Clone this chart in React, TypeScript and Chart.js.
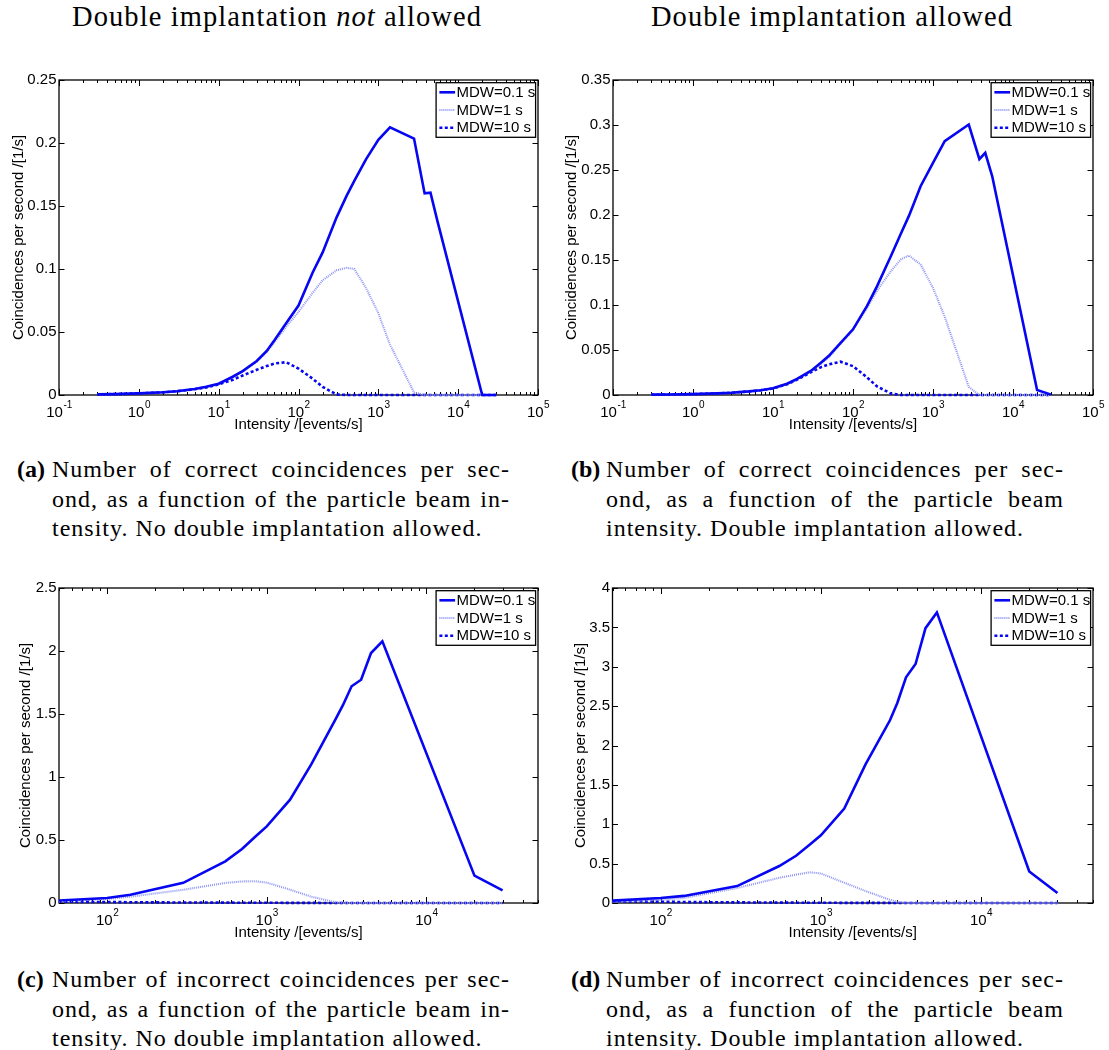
import React, { useEffect, useRef } from "react";
import { Chart, registerables } from "chart.js";

Chart.register(...registerables);

// ---------------- data ----------------
const SERIES_LABELS = ["MDW=0.1 s", "MDW=1 s", "MDW=10 s"];

const X_TOP = [0.3, 0.5, 1, 2, 3, 5, 7, 10, 15, 20, 30, 40, 50, 70, 100, 150, 200, 300, 400, 500, 700, 1000, 1400, 2800, 3800, 4500, 5500, 20000, 30000];

const A_MDW_01 = [0.0005, 0.0007, 0.0013, 0.0022, 0.003, 0.0048, 0.0065, 0.009, 0.0145, 0.019, 0.027, 0.035, 0.0435, 0.057, 0.071, 0.097, 0.113, 0.141, 0.158, 0.17, 0.187, 0.2025, 0.2125, 0.2035, 0.16, 0.1605, 0.138, 0, 0];
const A_MDW_1 = [0.0005, 0.0007, 0.0013, 0.0022, 0.003, 0.0048, 0.0065, 0.009, 0.0143, 0.0188, 0.0265, 0.034, 0.042, 0.054, 0.066, 0.081, 0.091, 0.099, 0.101, 0.1, 0.085, 0.065, 0.04, 0.002, 0, 0, 0, 0, 0];
const A_MDW_10 = [0.0005, 0.0007, 0.0013, 0.0021, 0.003, 0.0046, 0.006, 0.0085, 0.012, 0.0155, 0.02, 0.023, 0.025, 0.026, 0.021, 0.013, 0.0065, 0.0004, 0, 0, 0, 0, 0, 0, 0, 0, 0, 0, 0];

const B_MDW_01 = [0.0004, 0.0006, 0.001, 0.0018, 0.0025, 0.004, 0.0053, 0.0075, 0.0125, 0.018, 0.027, 0.036, 0.0435, 0.058, 0.073, 0.099, 0.121, 0.155, 0.18, 0.199, 0.232, 0.258, 0.282, 0.3005, 0.262, 0.269, 0.243, 0.0056, 0.0004];
const B_MDW_1 = [0.0004, 0.0006, 0.001, 0.0018, 0.0025, 0.004, 0.0053, 0.0075, 0.0123, 0.0178, 0.0265, 0.035, 0.042, 0.057, 0.072, 0.097, 0.116, 0.138, 0.151, 0.155, 0.145, 0.119, 0.087, 0.009, 0, 0, 0, 0, 0];
const B_MDW_10 = [0.0004, 0.0006, 0.001, 0.0018, 0.0025, 0.004, 0.0052, 0.0073, 0.012, 0.017, 0.0255, 0.031, 0.034, 0.037, 0.032, 0.0195, 0.0095, 0.0015, 0, 0, 0, 0, 0, 0, 0, 0, 0, 0, 0];

const X_BOTTOM = [50, 100, 140, 300, 550, 700, 850, 1000, 1400, 1900, 2700, 3000, 3400, 3900, 4500, 5300, 20000, 30000];

const C_MDW_01 = [0.02, 0.04, 0.066, 0.16, 0.331, 0.429, 0.528, 0.608, 0.82, 1.1, 1.46, 1.57, 1.72, 1.772, 1.984, 2.077, 0.217, 0.1];
const C_MDW_1 = [0.013, 0.032, 0.05, 0.105, 0.159, 0.171, 0.173, 0.162, 0.106, 0.05, 0.006, 0.001, 0, 0, 0, 0, 0, 0];
const C_MDW_10 = [0.01, 0.008, 0.006, 0.004, 0.003, 0.002, 0.002, 0.002, 0.001, 0.001, 0, 0, 0, 0, 0, 0, 0, 0];

const D_MDW_01 = [0.03, 0.063, 0.09, 0.215, 0.47, 0.6, 0.74, 0.86, 1.2, 1.76, 2.32, 2.54, 2.866, 3.035, 3.49, 3.69, 0.4, 0.127];
const D_MDW_1 = [0.017, 0.04, 0.065, 0.19, 0.32, 0.36, 0.39, 0.375, 0.257, 0.152, 0.04, 0.015, 0.003, 0, 0, 0, 0, 0];
const D_MDW_10 = [0.02, 0.017, 0.012, 0.008, 0.005, 0.004, 0.003, 0.003, 0.002, 0.001, 0.001, 0, 0, 0, 0, 0, 0, 0];

const Y_TICKS_A = [0, 0.05, 0.1, 0.15, 0.2, 0.25];
const Y_LABELS_A = ["0", "0.05", "0.1", "0.15", "0.2", "0.25"];
const Y_TICKS_B = [0, 0.05, 0.1, 0.15, 0.2, 0.25, 0.3, 0.35];
const Y_LABELS_B = ["0", "0.05", "0.1", "0.15", "0.2", "0.25", "0.3", "0.35"];
const Y_TICKS_C = [0, 0.5, 1, 1.5, 2, 2.5];
const Y_LABELS_C = ["0", "0.5", "1", "1.5", "2", "2.5"];
const Y_TICKS_D = [0, 0.5, 1, 1.5, 2, 2.5, 3, 3.5, 4];
const Y_LABELS_D = ["0", "0.5", "1", "1.5", "2", "2.5", "3", "3.5", "4"];

const X_DECADES_TOP = [0.1, 1, 10, 100, 1000, 10000, 100000];
const X_EXPONENTS_TOP = ["-1", "0", "1", "2", "3", "4", "5"];
const X_DECADES_BOTTOM = [100, 1000, 10000];
const X_EXPONENTS_BOTTOM = ["2", "3", "4"];

const X_TITLE = "Intensity /[events/s]";
const Y_TITLE = "Coincidences per second /[1/s]";

const HEADING_LEFT = "Double implantation ";
const HEADING_LEFT_EM = "not";
const HEADING_LEFT_END = " allowed";
const HEADING_RIGHT = "Double implantation allowed";

const CAPTION_A = ["Number of correct coincidences per sec-", "ond, as a function of the particle beam in-", "tensity. No double implantation allowed."];
const CAPTION_B = ["Number of correct coincidences per sec-", "ond, as a function of the particle beam", "intensity. Double implantation allowed."];
const CAPTION_C = ["Number of incorrect coincidences per sec-", "ond, as a function of the particle beam in-", "tensity. No double implantation allowed."];
const CAPTION_D = ["Number of incorrect coincidences per sec-", "ond, as a function of the particle beam", "intensity. Double implantation allowed."];

// ---------------- styles ----------------
const SANS = "'Liberation Sans', Arial, Helvetica, sans-serif";
const SERIF = "'Liberation Serif', 'Times New Roman', serif";
const LINE_STYLES = [
  { color: "#0606f2", width: 2.6, dash: [] as number[] },
  { color: "#8f96f4", width: 2.1, dash: [1, 1] },
  { color: "#0606f2", width: 2.6, dash: [3, 2.4] },
];

const CH = 375;
const PLOT_TOP = 20;
const PLOT_BOTTOM = 335;

type PanelSpec = {
  xs: number[];
  series: number[][];
  xMin: number;
  xMax: number;
  yMax: number;
  yTicks: number[];
  yLabels: string[];
  xDecades: number[];
  xExps: string[];
  yTitleX: number;
};

const PANEL_A: PanelSpec = { xs: X_TOP, series: [A_MDW_01, A_MDW_1, A_MDW_10], xMin: 0.1, xMax: 100000, yMax: 0.25, yTicks: Y_TICKS_A, yLabels: Y_LABELS_A, xDecades: X_DECADES_TOP, xExps: X_EXPONENTS_TOP, yTitleX: 18.4 };
const PANEL_B: PanelSpec = { xs: X_TOP, series: [B_MDW_01, B_MDW_1, B_MDW_10], xMin: 0.1, xMax: 100000, yMax: 0.35, yTicks: Y_TICKS_B, yLabels: Y_LABELS_B, xDecades: X_DECADES_TOP, xExps: X_EXPONENTS_TOP, yTitleX: 18.3 };
const PANEL_C: PanelSpec = { xs: X_BOTTOM, series: [C_MDW_01, C_MDW_1, C_MDW_10], xMin: 50, xMax: 50000, yMax: 2.5, yTicks: Y_TICKS_C, yLabels: Y_LABELS_C, xDecades: X_DECADES_BOTTOM, xExps: X_EXPONENTS_BOTTOM, yTitleX: 26.3 };
const PANEL_D: PanelSpec = { xs: X_BOTTOM, series: [D_MDW_01, D_MDW_1, D_MDW_10], xMin: 50, xMax: 50000, yMax: 4, yTicks: Y_TICKS_D, yLabels: Y_LABELS_D, xDecades: X_DECADES_BOTTOM, xExps: X_EXPONENTS_BOTTOM, yTitleX: 27 };

function makeAxesPlugin(p: PanelSpec) {
  return {
    id: "matlabAxes",
    beforeDatasetsDraw(chart: any) {
      const { ctx, chartArea: a, scales } = chart;
      const xs = scales.x;
      const ys = scales.y;
      ctx.save();
      ctx.strokeStyle = "#000";
      ctx.lineWidth = 1;
      ctx.beginPath();
      const lo = Math.floor(Math.log10(p.xMin) + 1e-9);
      const hi = Math.ceil(Math.log10(p.xMax) - 1e-9);
      for (let d = lo; d <= hi; d++) {
        for (let m = 1; m <= 9; m++) {
          const v = m * Math.pow(10, d);
          if (v < p.xMin * 0.999 || v > p.xMax * 1.001) continue;
          const px = Math.round(xs.getPixelForValue(v)) + 0.5;
          const len = m === 1 ? 6 : 3;
          ctx.moveTo(px, a.bottom);
          ctx.lineTo(px, a.bottom - len);
          ctx.moveTo(px, a.top);
          ctx.lineTo(px, a.top + len);
        }
      }
      p.yTicks.forEach((v) => {
        const py = Math.round(ys.getPixelForValue(v)) + 0.5;
        ctx.moveTo(a.left, py);
        ctx.lineTo(a.left + 5.5, py);
        ctx.moveTo(a.right, py);
        ctx.lineTo(a.right - 5.5, py);
      });
      ctx.stroke();
      ctx.lineWidth = 1.3;
      ctx.strokeRect(a.left, a.top, a.right - a.left, a.bottom - a.top);

      // y tick labels
      ctx.fillStyle = "#000";
      ctx.font = `15px ${SANS}`;
      ctx.textAlign = "right";
      ctx.textBaseline = "middle";
      p.yTicks.forEach((v, i) => {
        ctx.fillText(p.yLabels[i], a.left - 2.5, ys.getPixelForValue(v));
      });

      // x tick labels: 10 with raised exponent
      p.xDecades.forEach((v, i) => {
        const px = xs.getPixelForValue(v);
        ctx.font = `15px ${SANS}`;
        const wBase = ctx.measureText("10").width;
        ctx.font = `10px ${SANS}`;
        const wExp = ctx.measureText(p.xExps[i]).width;
        const start = px - (wBase + wExp) / 2;
        ctx.textAlign = "left";
        ctx.textBaseline = "alphabetic";
        ctx.font = `15px ${SANS}`;
        ctx.fillText("10", start, a.bottom + 21.7);
        ctx.font = `10px ${SANS}`;
        ctx.fillText(p.xExps[i], start + wBase + 0.5, a.bottom + 13.3);
      });

      // x title
      ctx.font = `15px ${SANS}`;
      ctx.textAlign = "center";
      ctx.textBaseline = "alphabetic";
      ctx.fillText(X_TITLE, (a.left + a.right) / 2, a.bottom + 33.5);

      // y title
      ctx.save();
      ctx.translate(p.yTitleX, (a.top + a.bottom) / 2);
      ctx.rotate(-Math.PI / 2);
      ctx.font = `15px ${SANS}`;
      ctx.textAlign = "center";
      ctx.textBaseline = "middle";
      ctx.fillText(Y_TITLE, 0, 0);
      ctx.restore();

      ctx.restore();
    },
    afterDatasetsDraw(chart: any) {
      const { ctx, chartArea: a } = chart;
      ctx.save();
      const bw = 99.5;
      const bx = a.right - 2.4 - bw;
      const by = a.top + 2.7;
      const bh = 54.6;
      ctx.fillStyle = "#fff";
      ctx.fillRect(bx, by, bw, bh);
      ctx.strokeStyle = "#000";
      ctx.lineWidth = 1.3;
      ctx.strokeRect(bx, by, bw, bh);
      chart.data.datasets.forEach((ds: any, i: number) => {
        const cy = by + 9.6 + 17.7 * i;
        ctx.beginPath();
        ctx.strokeStyle = ds.borderColor;
        ctx.lineWidth = ds.borderWidth;
        ctx.setLineDash(ds.borderDash || []);
        ctx.moveTo(bx + 3.3, cy);
        ctx.lineTo(bx + 19, cy);
        ctx.stroke();
        ctx.setLineDash([]);
        ctx.fillStyle = "#000";
        ctx.font = `15px ${SANS}`;
        ctx.textAlign = "left";
        ctx.textBaseline = "middle";
        ctx.fillText(ds.label, bx + 20.3, cy + 0.5);
      });
      ctx.restore();
    },
  };
}

function Panel({ spec, left, top, width, padLeft, padRight }: { spec: PanelSpec; left: number; top: number; width: number; padLeft: number; padRight: number }) {
  const ref = useRef<HTMLCanvasElement | null>(null);
  useEffect(() => {
    if (!ref.current) return;
    const chart = new Chart(ref.current, {
      type: "scatter",
      data: {
        datasets: spec.series.map((ys, i) => ({
          label: SERIES_LABELS[i],
          data: spec.xs.map((x, j) => ({ x, y: ys[j] })),
          showLine: true,
          borderColor: LINE_STYLES[i].color,
          backgroundColor: LINE_STYLES[i].color,
          borderWidth: LINE_STYLES[i].width,
          borderDash: LINE_STYLES[i].dash,
          pointRadius: 0,
          pointHoverRadius: 0,
          tension: 0,
          fill: false,
          clip: false as any,
        })),
      },
      options: {
        responsive: false,
        animation: false,
        events: [],
        layout: { padding: { left: padLeft, right: padRight, top: PLOT_TOP, bottom: CH - PLOT_BOTTOM } },
        scales: {
          x: { type: "logarithmic", min: spec.xMin, max: spec.xMax, display: false },
          y: { type: "linear", min: 0, max: spec.yMax, display: false },
        },
        plugins: { legend: { display: false }, tooltip: { enabled: false } },
      },
      plugins: [makeAxesPlugin(spec) as any],
    });
    return () => chart.destroy();
  }, [spec]);
  return (
    <canvas
      ref={ref}
      width={width}
      height={CH}
      style={{ position: "absolute", left, top, width, height: CH }}
    />
  );
}

function Caption({ label, lines, left, top }: { label: string; lines: string[]; left: number; top: number }) {
  const lineH = 29.5;
  const common: React.CSSProperties = {
    position: "absolute",
    fontFamily: SERIF,
    fontSize: 24,
    lineHeight: `${lineH}px`,
    color: "#000",
    letterSpacing: "1px",
  };
  return (
    <>
      <div style={{ ...common, left, top, fontWeight: "bold", letterSpacing: "0px" }}>{label}</div>
      {lines.map((t, i) => (
        <div
          key={i}
          style={{
            ...common,
            left: left + 35,
            top: top + i * lineH,
            width: 458,
            textAlign: i < lines.length - 1 ? "justify" : "left",
            textAlignLast: i < lines.length - 1 ? "justify" : "left",
          }}
        >
          {t}
        </div>
      ))}
    </>
  );
}

const headingStyle = (left: number): React.CSSProperties => ({
  position: "absolute",
  left,
  top: 1,
  width: 520,
  textAlign: "center",
  fontFamily: SERIF,
  fontSize: 28.5,
  lineHeight: "31px",
  letterSpacing: "1.1px",
  color: "#000",
});

export default function App() {
  return (
    <div style={{ position: "absolute", left: 0, top: 0, width: 1109, height: 1050, background: "#fff", overflow: "hidden" }}>
      <div style={headingStyle(17)}>
        {HEADING_LEFT}
        <i>{HEADING_LEFT_EM}</i>
        {HEADING_LEFT_END}
      </div>
      <div style={headingStyle(572)}>{HEADING_RIGHT}</div>
      <Panel spec={PANEL_A} left={0} top={60} width={560} padLeft={59} padRight={22} />
      <Panel spec={PANEL_B} left={554} top={60} width={555} padLeft={59} padRight={16} />
      <Panel spec={PANEL_C} left={0} top={568} width={560} padLeft={59} padRight={22} />
      <Panel spec={PANEL_D} left={554} top={568} width={555} padLeft={58.5} padRight={16} />
      <Caption label="(a)" lines={CAPTION_A} left={17} top={455} />
      <Caption label="(b)" lines={CAPTION_B} left={571} top={455} />
      <Caption label="(c)" lines={CAPTION_C} left={17} top={965} />
      <Caption label="(d)" lines={CAPTION_D} left={571} top={965} />
    </div>
  );
}
